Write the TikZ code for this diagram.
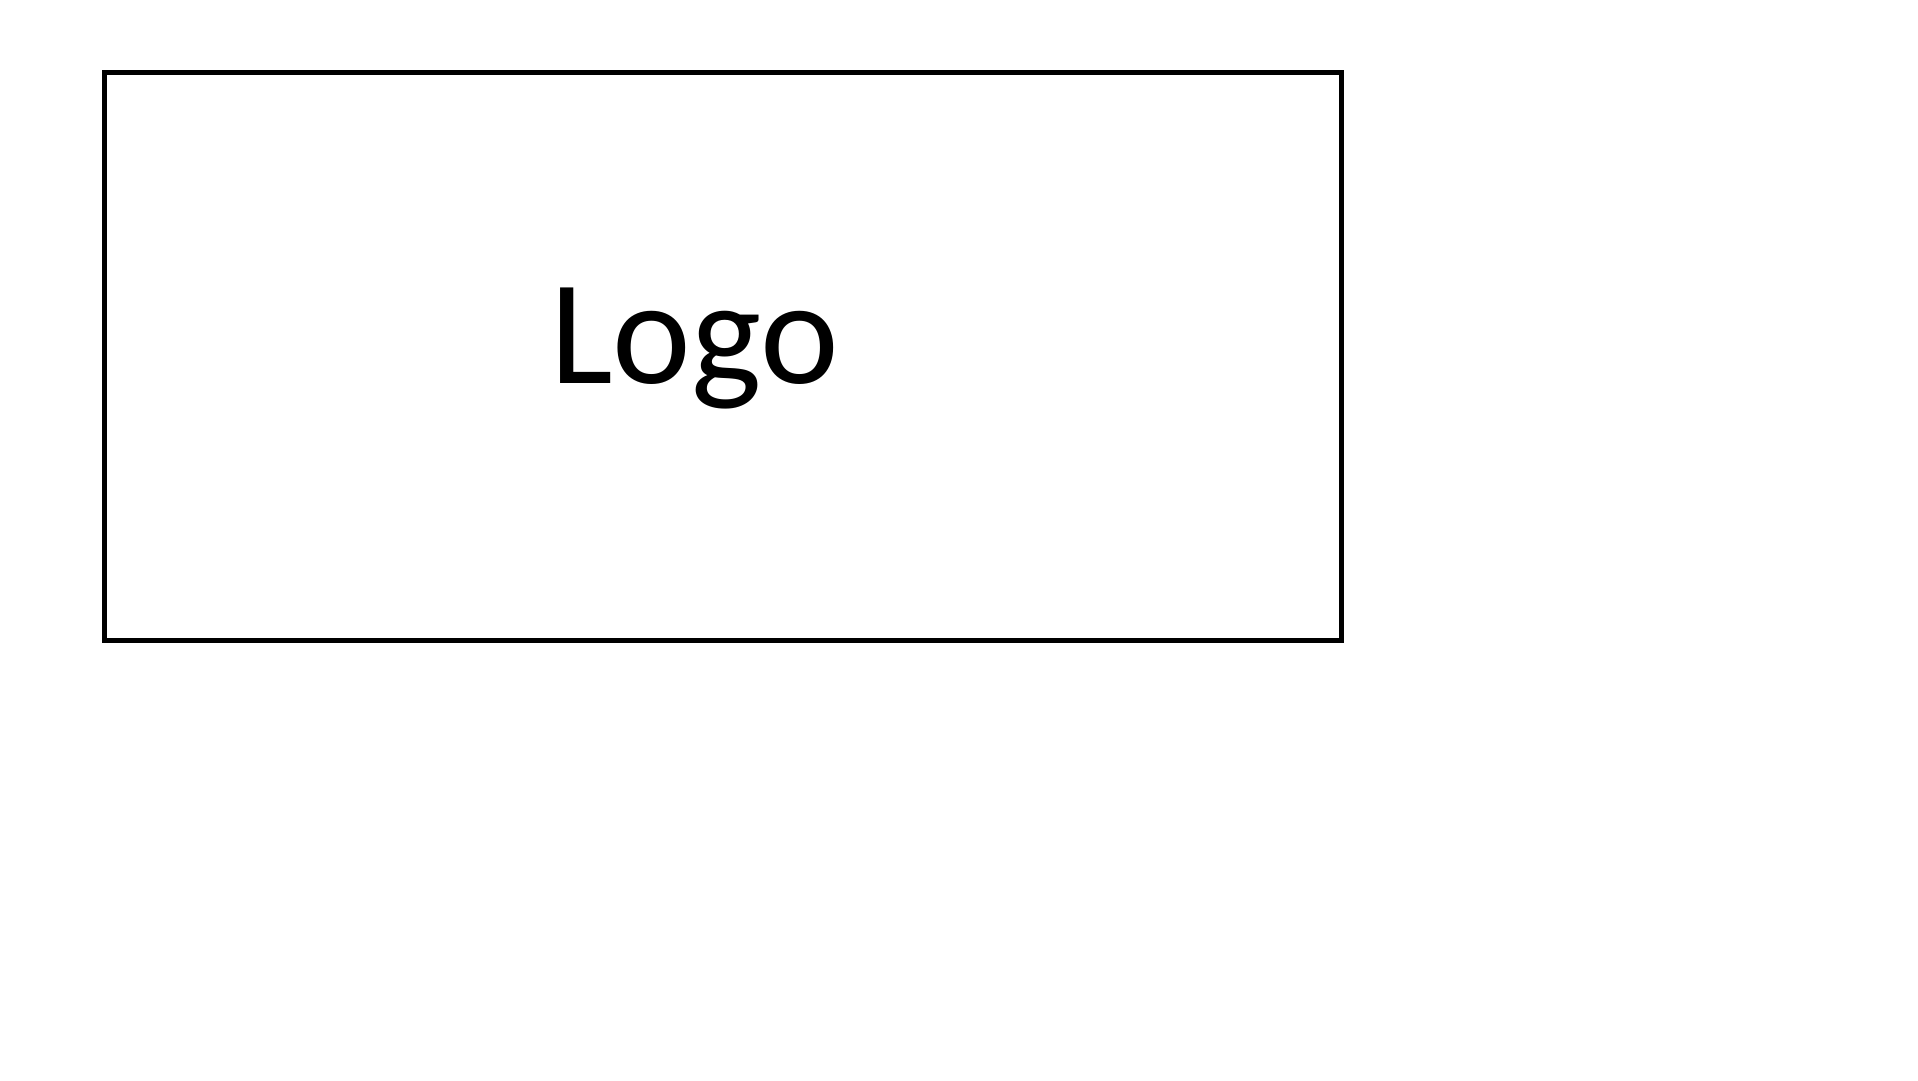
\documentclass[tikz,border=0pt]{standalone}
\usepackage{fontspec}
\setmainfont{Carlito}
\begin{document}
\begin{tikzpicture}[x=1pt, y=1pt, frame/.style={rectangle, draw,
      line width=5pt, inner sep=0pt}, logotext/.style={inner sep=0pt,
      font=\fontsize{149}{149}\selectfont}]
    \useasboundingbox (0,0) rectangle (1918,1080);
    \node [frame, minimum width=1237pt, minimum height=568pt] (box)
    at (723, 723.5) {}; \node [logotext, anchor=base west] (logo) at
    (550, 696) {Logo};
  \end{tikzpicture}
\end{document}
